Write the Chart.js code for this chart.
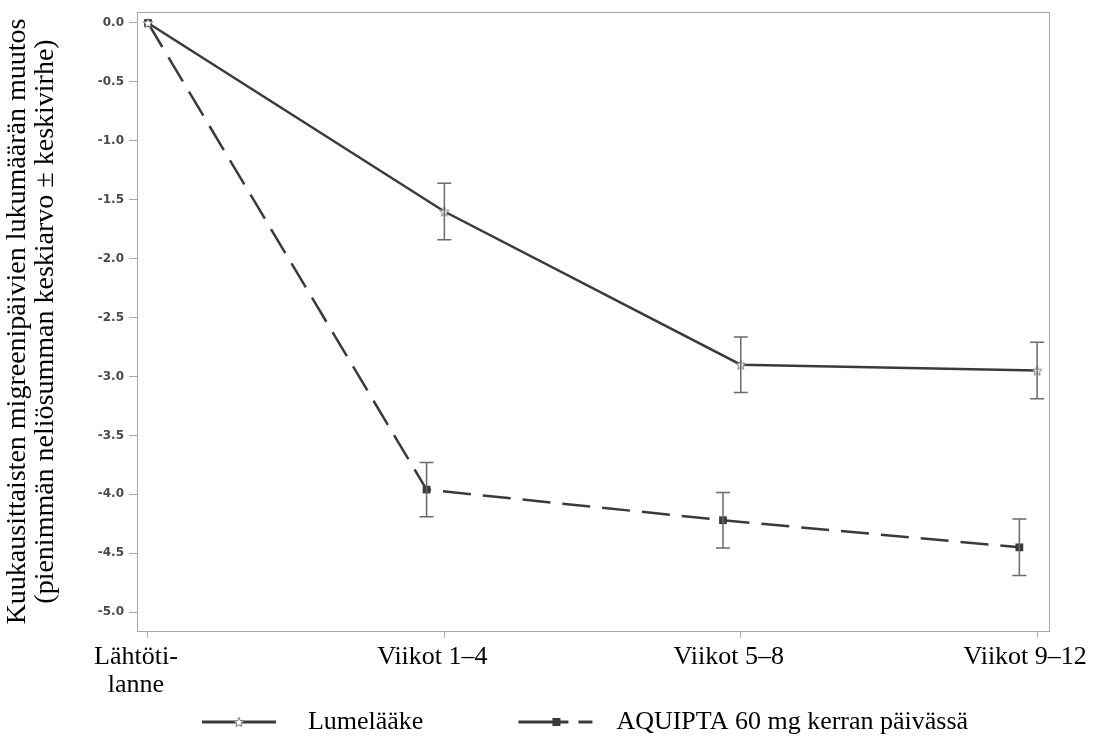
<!DOCTYPE html>
<html>
<head>
<meta charset="utf-8">
<script src="https://cdn.jsdelivr.net/npm/chart.js@4.4.1/dist/chart.umd.min.js"></script>
<style>
  html, body { margin: 0; padding: 0; background: #fff; }
</style>
</head>
<body>
<canvas id="kuvaaja" width="1093" height="754"></canvas>
<script>
// Aikapisteet (x-akselin nimiöt)
const kategoriat = [['Lähtöti-', 'lanne'], 'Viikot 1–4', 'Viikot 5–8', 'Viikot 9–12'];

// Lumelääke: keskiarvon muutos ja keskivirhe
const lumelaake = [0, -1.60, -2.90, -2.95];
const lumelaakeSE = [0, 0.24, 0.235, 0.24];

// AQUIPTA 60 mg: keskiarvon muutos ja keskivirhe
const aquipta = [0, -3.96, -4.22, -4.45];
const aquiptaSE = [0, 0.23, 0.235, 0.24];

// y-akselin jakoviivat
const yTicks = [0, -0.5, -1.0, -1.5, -2.0, -2.5, -3.0, -3.5, -4.0, -4.5, -5.0];

// AQUIPTA-pisteet on siirretty hieman vasemmalle (ei lähtötilanteessa)
const siirto = -0.06;

const viiva = '#3a3a3a';
const serif = "'Liberation Serif', 'Times New Roman', serif";

// tähtimerkki lumelääkkeelle
function tahti(koko) {
  const c = document.createElement('canvas');
  c.width = koko; c.height = koko;
  const g = c.getContext('2d');
  const r = koko / 2 - 1, r2 = r * 0.45, cx = koko / 2, cy = koko / 2 + 0.5;
  g.beginPath();
  for (let i = 0; i < 10; i++) {
    const rr = i % 2 ? r2 : r;
    const a = -Math.PI / 2 + i * Math.PI / 5;
    g.lineTo(cx + rr * Math.cos(a), cy + rr * Math.sin(a));
  }
  g.closePath();
  g.fillStyle = '#fff';
  g.fill();
  g.strokeStyle = '#777';
  g.lineWidth = 1;
  g.stroke();
  return c;
}

// selitteen näytekuvat
const LEG_W = 170;
function selite(tyyppi) {
  const c = document.createElement('canvas');
  c.width = LEG_W; c.height = 22;
  const g = c.getContext('2d');
  g.strokeStyle = viiva;
  g.lineWidth = 3;
  const y = 11;
  if (tyyppi === 0) {
    const x0 = 77;
    g.beginPath(); g.moveTo(x0, y); g.lineTo(x0 + 74, y); g.stroke();
    g.drawImage(tahti(12), x0 + 37 - 6, y - 6);
  } else {
    const x0 = 85;
    g.beginPath(); g.moveTo(x0, y); g.lineTo(x0 + 50, y); g.stroke();
    g.beginPath(); g.moveTo(x0 + 60, y); g.lineTo(x0 + 74, y); g.stroke();
    g.fillStyle = viiva;
    g.fillRect(x0 + 34, y - 4, 8, 8);
  }
  return c;
}

// virhepalkit piirretään asteikkojen kautta
const virhepalkit = {
  id: 'virhepalkit',
  afterDatasetsDraw(chart) {
    const g = chart.ctx;
    const ys = chart.scales.y;
    g.save();
    g.strokeStyle = '#6a6a6a';
    g.lineWidth = 1.5;
    chart.data.datasets.forEach((ds, di) => {
      const meta = chart.getDatasetMeta(di);
      ds.data.forEach((p, i) => {
        const se = ds.se[i];
        if (!se) return;
        const x = meta.data[i].x;
        const y1 = ys.getPixelForValue(p.y + se);
        const y2 = ys.getPixelForValue(p.y - se);
        g.beginPath();
        g.moveTo(x, y1); g.lineTo(x, y2);
        g.moveTo(x - 7, y1); g.lineTo(x + 7, y1);
        g.moveTo(x - 7, y2); g.lineTo(x + 7, y2);
        g.stroke();
      });
    });
    g.restore();
  }
};

// kehys kuvaajan ympärille
const kehys = {
  id: 'kehys',
  beforeDatasetsDraw(chart) {
    const a = chart.chartArea;
    const g = chart.ctx;
    g.save();
    g.strokeStyle = '#a8a8a8';
    g.lineWidth = 1;
    g.strokeRect(a.left + 0.5, a.top + 0.5, a.right - a.left, a.bottom - a.top);
    g.restore();
  }
};

const ctx = document.getElementById('kuvaaja').getContext('2d');

new Chart(ctx, {
  type: 'line',
  data: {
    datasets: [
      {
        label: 'Lumelääke',
        data: lumelaake.map((v, i) => ({ x: i, y: v })),
        se: lumelaakeSE,
        borderColor: viiva,
        borderWidth: 2.5,
        pointStyle: tahti(12),
        pointRadius: 6,
        tension: 0
      },
      {
        label: 'AQUIPTA 60 mg kerran päivässä',
        data: aquipta.map((v, i) => ({ x: i + (i ? siirto : 0), y: v })),
        se: aquiptaSE,
        borderColor: viiva,
        borderWidth: 2.5,
        borderDash: [28, 12],
        pointStyle: 'rect',
        pointRadius: 5.5,
        pointBackgroundColor: viiva,
        pointBorderColor: viiva,
        pointBorderWidth: 0,
        tension: 0
      }
    ]
  },
  options: {
    responsive: false,
    animation: false,
    layout: { padding: { top: 12, right: 0, bottom: 9, left: 0 } },
    scales: {
      x: {
        type: 'linear',
        min: -0.037,
        max: 3.04,
        afterBuildTicks: (s) => { s.ticks = kategoriat.map((k, i) => ({ value: i })); },
        afterFit: (s) => { s.height = 68; s.paddingLeft = 0; s.paddingRight = 0; },
        grid: { drawOnChartArea: false, drawTicks: true, tickLength: 7, color: '#a8a8a8' },
        border: { color: '#a8a8a8' },
        ticks: {
          callback: (v) => kategoriat[v],
          labelOffset: -12,
          padding: 5,
          maxRotation: 0,
          autoSkip: false,
          color: '#000',
          font: { family: serif, size: 26, lineHeight: 1.07 }
        }
      },
      y: {
        min: -5.16,
        max: 0.093,
        afterBuildTicks: (s) => { s.ticks = yTicks.map((v) => ({ value: v })); },
        afterFit: (s) => { s.width = 137; s.paddingTop = 0; s.paddingBottom = 0; },
        grid: { drawOnChartArea: false, drawTicks: true, tickLength: 8, color: '#a8a8a8' },
        border: { color: '#a8a8a8' },
        ticks: {
          callback: (v) => v.toFixed(1),
          padding: 5,
          color: '#4a4a4a',
          font: { family: "'DejaVu Sans', sans-serif", size: 12, weight: 'bold' }
        },
        title: {
          display: true,
          text: ['Kuukausittaisten migreenipäivien lukumäärän muutos', '(pienimmän neliösumman keskiarvo ± keskivirhe)'],
          color: '#000',
          padding: { top: 4, bottom: 0 },
          font: { family: serif, size: 28, lineHeight: 1.0 }
        }
      },
      // tyhjä tila oikealla puolella
      y2: {
        position: 'right',
        display: true,
        afterFit: (s) => { s.width = 44; },
        grid: { display: false },
        border: { display: false },
        ticks: { display: false }
      }
    },
    plugins: {
      tooltip: { enabled: false },
      legend: {
        position: 'bottom',
        labels: {
          usePointStyle: true,
          pointStyleWidth: LEG_W,
          padding: 10,
          color: '#000',
          font: { family: serif, size: 26 },
          generateLabels: (chart) => chart.data.datasets.map((ds, i) => ({
            text: ds.label,
            pointStyle: selite(i),
            fillStyle: 'transparent',
            strokeStyle: 'transparent',
            lineWidth: 0,
            hidden: false,
            datasetIndex: i
          }))
        }
      }
    }
  },
  plugins: [kehys, virhepalkit]
});
</script>
</body>
</html>
